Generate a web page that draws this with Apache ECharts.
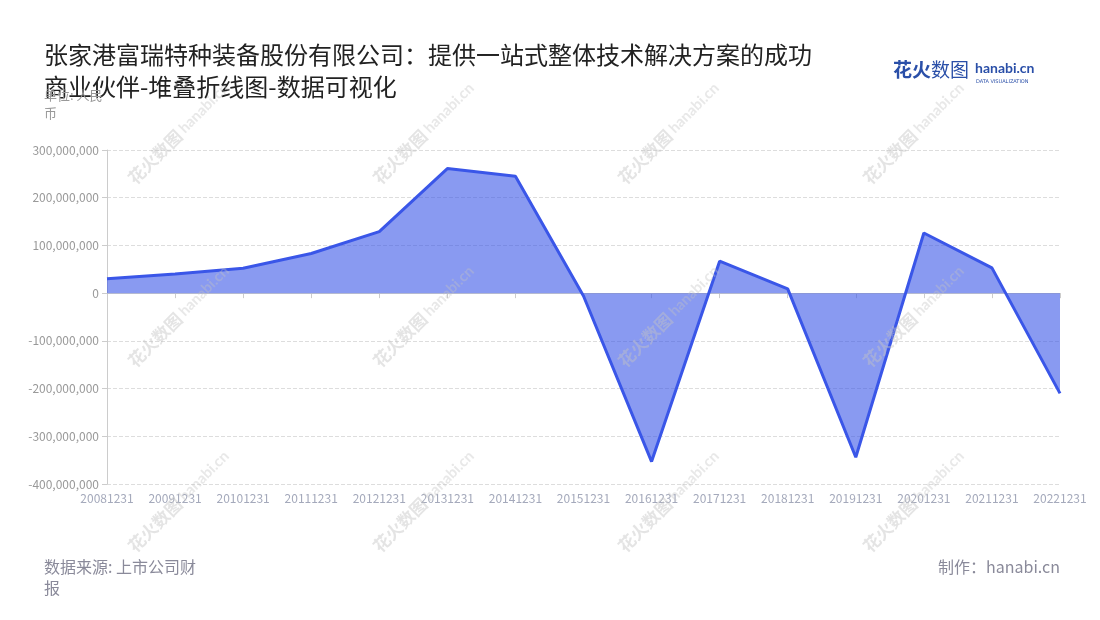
<!DOCTYPE html>
<html>
<head>
<meta charset="utf-8">
<script src="https://cdn.jsdelivr.net/npm/echarts@6/dist/echarts.min.js"></script>
<style>
html,body{margin:0;padding:0;background:#fff;}
#chart{width:1100px;height:620px;}
</style>
</head>
<body>
<div id="chart"></div>
<script>
var categories = ['20081231','20091231','20101231','20111231','20121231','20131231','20141231','20151231','20161231','20171231','20181231','20191231','20201231','20211231','20221231'];
var values = [30000000, 40000000, 52000000, 83000000, 129000000, 261000000, 245000000, -6000000, -353000000, 67000000, 9000000, -344000000, 126000000, 53000000, -210000000];
var yTicks = { min: -400000000, max: 300000000, interval: 100000000 };
var titleText = '张家港富瑞特种装备股份有限公司：提供一站式整体技术解决方案的成功商业伙伴-堆叠折线图-数据可视化';
var unitLines = ['单位: 人民', '币'];
var sourceLines = ['数据来源: 上市公司财', '报'];
var makerText = '制作：hanabi.cn';

var FONT = '"Noto Sans CJK SC", "Noto Sans", sans-serif';

function fmt(v){
  var s = Math.abs(v).toString().replace(/\B(?=(\d{3})+(?!\d))/g, ',');
  return (v < 0 ? '-' : '') + s;
}

var wmCols = [125, 370, 615, 860];
var wmRows = [175, 358, 543];
var watermarks = [];
wmRows.forEach(function(y){
  wmCols.forEach(function(x){
    watermarks.push({
      type: 'text', x: x, y: y, rotation: Math.PI/4, z: 100, silent: true,
      style: {
        text: '{a|花火数图} {b|hanabi.cn}',
        rich: {
          a: { fontFamily: FONT, fontSize: 17, fontWeight: 'bold', fill: 'rgba(195,195,195,0.45)' },
          b: { fontFamily: 'Lato, sans-serif', fontSize: 15, fontWeight: 'bold', fill: 'rgba(195,195,195,0.38)' }
        }
      }
    });
  });
});

var chart = echarts.init(document.getElementById('chart'), null, {renderer:'canvas'});
chart.setOption({
  backgroundColor: '#fff',
  animation: false,
  title: [
    { text: titleText, left: 44, top: 39, padding: 0,
      textStyle: { fontFamily: FONT, fontSize: 24, fontWeight: 'normal', color: '#222', width: 780, overflow: 'break', lineHeight: 32 } },
    { text: unitLines.join('\n'), left: 44, top: 86, padding: 0,
      textStyle: { fontFamily: FONT, fontSize: 13, fontWeight: 'normal', color: '#999', lineHeight: 18 } },
    { text: sourceLines.join('\n'), left: 44, top: 556, padding: 0,
      textStyle: { fontFamily: FONT, fontSize: 16, fontWeight: 'normal', color: '#8a8a9a', lineHeight: 21 } },
    { text: makerText, right: 40, top: 556, padding: 0,
      textStyle: { fontFamily: FONT, fontSize: 16, fontWeight: 'normal', color: '#8a8a9a', lineHeight: 21 } }
  ],
  graphic: watermarks.concat([
    { type: 'text', left: 893, top: 60, z: 110,
      style: {
        text: '{a|花火}{b|数图}',
        rich: {
          a: { fontFamily: FONT, fontSize: 19, fontWeight: 'bold', fill: '#2a4fa8' },
          b: { fontFamily: FONT, fontSize: 19, fontWeight: 'normal', fill: '#2a4fa8' }
        }
      } },
    { type: 'text', left: 975, top: 61, z: 110,
      style: { text: 'hanabi.cn', font: 'bold 14px Lato, sans-serif', fill: '#2a4fa8' } },
    { type: 'text', left: 976, top: 79, z: 110,
      style: { text: 'DATA VISUALIZATION', font: '5px "DejaVu Sans", sans-serif', fill: '#2a4fa8' } }
  ]),
  grid: { left: 107, right: 40, top: 150, bottom: 136, containLabel: false },
  xAxis: {
    type: 'category', data: categories, boundaryGap: false,
    axisLine: { show: true, lineStyle: { color: '#cccccc', width: 1 } },
    axisTick: { show: true, lineStyle: { color: '#cccccc' } },
    axisLabel: { interval: 0, color: '#a4a9bb', fontSize: 12, fontFamily: FONT, margin: 8 },
    splitLine: { show: false }
  },
  yAxis: {
    type: 'value', min: yTicks.min, max: yTicks.max, interval: yTicks.interval,
    axisLine: { show: true, lineStyle: { color: '#cccccc', width: 1 } },
    axisTick: { show: true, lineStyle: { color: '#cccccc' } },
    axisLabel: { color: '#999999', fontSize: 12, fontFamily: FONT, formatter: fmt },
    splitLine: { show: true, lineStyle: { color: '#dddddd', type: 'dashed' } }
  },
  series: [{
    type: 'line', name: '值', stack: 'total', data: values,
    showSymbol: false, symbol: 'none',
    lineStyle: { color: '#3a56e8', width: 3 },
    itemStyle: { color: '#3a56e8' },
    areaStyle: { color: '#3a56e8', opacity: 0.6 }
  }]
});
</script>
</body>
</html>
